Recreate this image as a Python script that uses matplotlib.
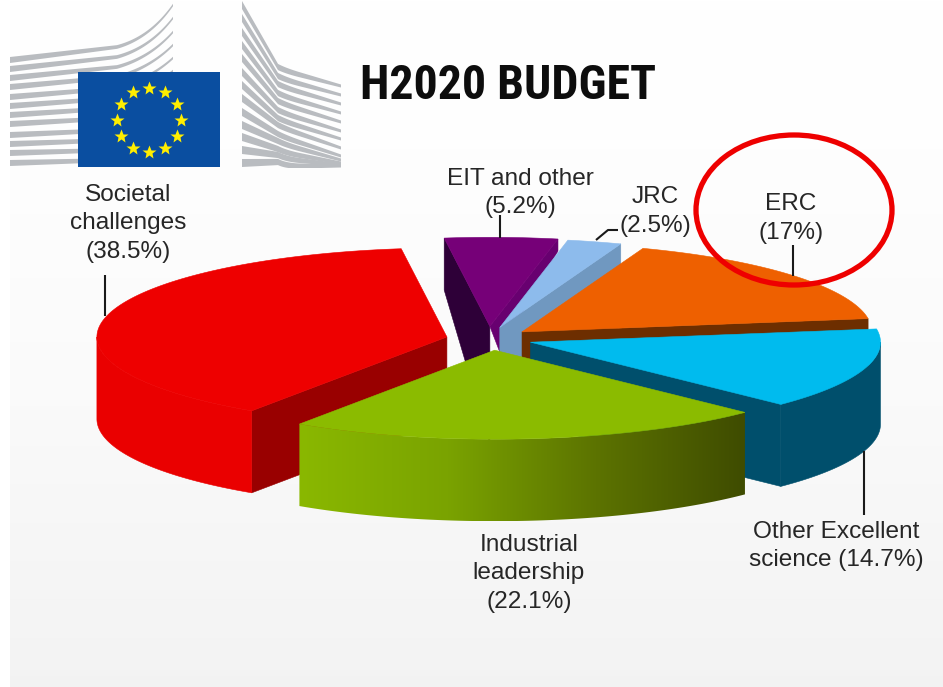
import numpy as np
import matplotlib
matplotlib.use("Agg")
import matplotlib.pyplot as plt
from matplotlib.patches import Polygon, Rectangle, Ellipse

# ---- data ----
categories = ["EIT and other", "JRC", "ERC", "Other Excellent science", "Industrial leadership", "Societal challenges"]
shares = [5.2, 2.5, 17.0, 14.7, 22.1, 38.5]
title = "H2020 BUDGET"

# ---- style ----
explode = [0.165, 0.135, 0.118, 0.117, 0.115, 0.125]
nudge = [(-2, 1), (-3, -1), (0, -1.5), (1.5, -1), (0.5, 0), (-0.5, -0.5)]
top_col = ["#760078", "#8dbbec", "#ee6000", "#00bbee", "#8bbb00", "#ee0000"]
RX, RY, DEPTH = 350.0, 89.0, 82.0
CX, CY = 490.0, 340.0
START = -7.5
W, H = 943, 687
TXT = "#262626"

plt.rcParams["font.family"] = ["Liberation Sans", "DejaVu Sans"]

fig = plt.figure(figsize=(W / 100, H / 100), dpi=100)
ax = fig.add_axes([0, 0, 1, 1])
ax.set_xlim(0, W)
ax.set_ylim(H, 0)
ax.axis("off")

# background
g = np.interp(np.linspace(0, 1, 256), [0, 0.22, 0.6, 0.87, 1.0], [1.0, 0.996, 0.98, 0.961, 0.952])
ax.imshow(np.stack([g, g, g], axis=-1)[:, None, :], extent=(9.5, W, H, 0), aspect="auto", zorder=0, interpolation="bilinear")
ax.set_xlim(0, W)
ax.set_ylim(H, 0)

# ---- logo ----
STRIPE = "#b9bcc0"


def quad(p0, c, p1, n=30):
    t = np.linspace(0, 1, n)[:, None]
    return (1 - t) ** 2 * np.array(p0) + 2 * t * (1 - t) * np.array(c) + t ** 2 * np.array(p1)


def band(pts, w0, w1, clip):
    pts = np.asarray(pts, float)
    s = (pts[:, 0] - pts[0, 0]) / (pts[-1, 0] - pts[0, 0])
    w = w0 + (w1 - w0) * s
    upper = np.c_[pts[:, 0], pts[:, 1] - w / 2]
    lower = np.c_[pts[:, 0], pts[:, 1] + w / 2]
    pg = Polygon(np.vstack([upper, lower[::-1]]), closed=True, fc=STRIPE, ec="none", zorder=1)
    ax.add_patch(pg)
    pg.set_clip_path(clip)


clipL = Rectangle((10, 0), 163, 168, transform=ax.transData)
clipR = Rectangle((242, 0), 99, 168, transform=ax.transData)
left_y = [60, 69, 78, 87, 97, 106, 115, 124, 135, 144, 153, 163]
left_r = [5, 18, 32, 45, 58, 71, 84, 97, 110, 123, 136, 149]
for i, (l, r) in enumerate(zip(left_y, left_r)):
    m = l - max(13 - i, 3)
    c = quad((117, m), (150, m - 9), (173, r))
    band(np.vstack([[(10, l)], c]), 6.0, 2.5, clipL)
right_l = [5, 18, 32, 45, 58, 72, 85, 98, 112, 125, 137, 150, 163]
right_k = [70, 79, 87, 96, 104, 113, 121, 128, 137, 144, 152, 158, 165]
right_r = [86, 95, 104, 113, 122, 131, 139, 148, 156, 160, 163, 165, 166]
for l, k, r in zip(right_l, right_k, right_r):
    e = k + 1 + (r - k - 1) * 14 / 55
    c = quad((278, k - 3), (286, k + 1), (300, e))
    band(np.vstack([[(242, l)], c, [(341, r)]]), 8.0, 3.0, clipR)
ax.add_patch(Rectangle((78, 72), 142, 95, fc="#0a4ea0", ec="none", zorder=2))
sa = np.radians(np.arange(12) * 30)
ax.plot(149 + 32 * np.sin(sa), 120 - 32 * np.cos(sa), ls="none", marker="*", ms=10.5, mfc="#ffee00", mec="none", zorder=3)

# ---- pie geometry from values ----
bounds = START + np.concatenate([[0], np.cumsum(shares)]) * 3.6


def apex(i):
    mid = np.radians((bounds[i] + bounds[i + 1]) / 2)
    return (CX + explode[i] * RX * np.sin(mid) + nudge[i][0],
            CY - explode[i] * RY * np.cos(mid) + nudge[i][1])


def rim(i, deg):
    a = np.radians(deg)
    x0, y0 = apex(i)
    return x0 + RX * np.sin(a), y0 - RY * np.cos(a)


def arc(i, d0, d1, n=120):
    return np.array([rim(i, d) for d in np.linspace(d0, d1, n)])


def poly(pts, col, z):
    return ax.add_patch(Polygon(pts, closed=True, fc=col, ec=col, lw=0.4, zorder=z))


def top(i, z):
    a = np.array([apex(i)])
    poly(np.vstack([a, arc(i, bounds[i], bounds[i + 1])]), top_col[i], z)


def radial(i, deg, col, z, rim_d=DEPTH, apex_d=DEPTH, shift=0.0):
    ax0, ay0 = apex(i)
    rx0, ry0 = rim(i, deg)
    poly([(ax0, ay0), (rx0, ry0), (rx0, ry0 + rim_d), (ax0 + shift, ay0 + apex_d)], col, z)


def side_pts(i, d0, d1):
    a = arc(i, d0, d1)
    return np.vstack([a, (a + [0, DEPTH])[::-1]])


def side(i, d0, d1, z, col):
    poly(side_pts(i, d0, d1), col, z)


def side_grad(i, d0, d1, z, stops):
    pts = side_pts(i, d0, d1)
    clip = Polygon(pts, closed=True, transform=ax.transData, fc="none", ec="none")
    rgb = np.array([matplotlib.colors.to_rgb(c) for c in stops])
    t = np.linspace(0, 1, 256)
    img = np.stack([np.interp(t, np.linspace(0, 1, len(stops)), rgb[:, k]) for k in range(3)], axis=-1)[None, :, :]
    x0, x1 = pts[:, 0].min(), pts[:, 0].max()
    y0, y1 = pts[:, 1].min(), pts[:, 1].max()
    im = ax.imshow(img, extent=(x0, x1, y1, y0), aspect="auto", zorder=z, interpolation="bilinear")
    im.set_clip_path(clip)
    ax.set_xlim(0, W)
    ax.set_ylim(H, 0)


EIT, JRC, ERC, OTH, IND, SOC = range(6)
# EIT
radial(EIT, bounds[EIT], "#2e0038", 10, rim_d=52, apex_d=118)
radial(EIT, bounds[EIT + 1], "#680070", 10.5, rim_d=12, apex_d=26, shift=10)
top(EIT, 11)
# JRC
radial(JRC, bounds[JRC + 1], "#7098c0", 12)
top(JRC, 13)
# ERC
radial(ERC, bounds[ERC + 1], "#6d2e00", 14)
top(ERC, 15)
# Societal
radial(SOC, bounds[SOC], "#990000", 16)
side(SOC, bounds[SOC], 270, 16.5, "#ea0000")
top(SOC, 17)
# Other excellent
radial(OTH, bounds[OTH + 1], "#004f6c", 18)
side(OTH, 90, bounds[OTH + 1], 18.5, "#004f6c")
top(OTH, 19)
# Industrial
side_grad(IND, bounds[IND], bounds[IND + 1], 20, ["#8ab800", "#7aa300", "#5c7300", "#3f4c00"])
top(IND, 21)

# ---- leader lines ----
lk = dict(color="#1a1a1a", lw=1.5, zorder=25, solid_capstyle="butt")
ax.plot([105, 105], [275, 316], **lk)
ax.plot([500, 500], [215, 238], **lk)
ax.plot([596, 608, 618], [240, 230, 230], **lk)
ax.plot([793, 793], [245, 276], **lk)
ax.plot([864, 864], [451, 515], **lk)

# ---- labels ----
tk = dict(ha="center", va="baseline", fontsize=17.6, color=TXT, zorder=30)
labels = [
    (128, [201, 229, 258], ["Societal", "challenges", "(38.5%)"]),
    (520, [185, 213], ["EIT and other", "(5.2%)"]),
    (655, [203, 232], ["JRC", "(2.5%)"]),
    (791, [210, 239], ["ERC", "(17%)"]),
    (836, [538, 566], ["Other Excellent", "science (14.7%)"]),
    (529, [551, 579, 608], ["Industrial", "leadership", "(22.1%)"]),
]
for x, ys, lines in labels:
    for y, s in zip(ys, lines):
        ax.text(x, y, s, **tk)

ax.text(360, 99, title, fontsize=34.5, fontweight="bold", family=["Roboto Condensed", "Liberation Sans"],
        color="#0d0d0d", ha="left", va="baseline", zorder=30)

# ---- highlight ----
ax.add_patch(Ellipse((794, 210), 196, 150, fc="none", ec="#ee0000", lw=3.8, zorder=28))

fig.savefig("out.png", dpi=100)
